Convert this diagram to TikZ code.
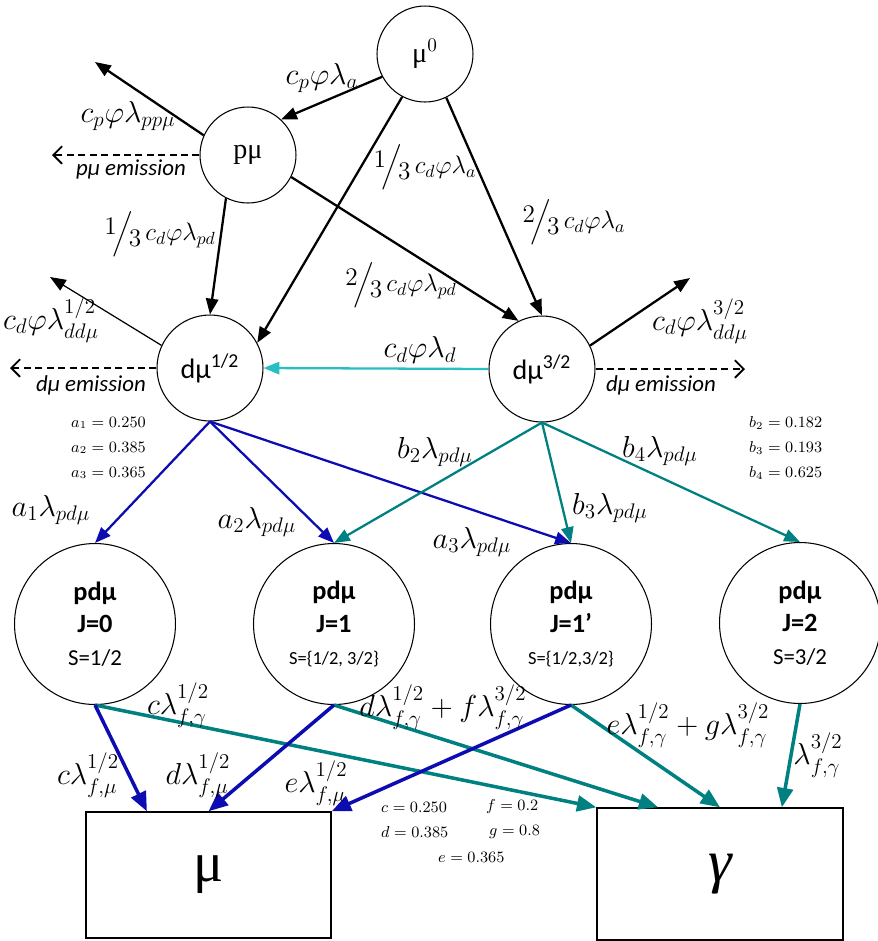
\documentclass[tikz,border=0pt]{standalone}
\usepackage{amsmath, amssymb}
\usepackage{fontspec}
\setmainfont{Liberation Serif}
\setsansfont{Carlito}
\usepackage{tikz}
\usetikzlibrary{shapes,arrows,arrows.meta,positioning,calc}

\definecolor{flowblue}{RGB}{12,12,178}
\definecolor{flowteal}{RGB}{0,128,128}
\definecolor{flowcyan}{RGB}{40,190,195}
\newcommand{\ofthree}[1]{\raisebox{0.5ex}{$#1$}\!\Big/\!\raisebox{-0.5ex}{$3$}\,}

\begin{document}
\begin{tikzpicture}[x=0.02cm, y=-0.02cm,
  state/.style={circle, draw, line width=0.6pt, minimum size=1.92cm, inner sep=0pt, font=\fontsize{16}{18}\selectfont},
  dstate/.style={state, minimum size=2.12cm, font=\sffamily\fontsize{16}{18}\selectfont},
  mol/.style={circle, draw, line width=0.6pt, minimum size=3.22cm, inner sep=0pt, align=center, font=\sffamily\fontsize{15}{18.5}\selectfont},
  sink/.style={rectangle, draw, line width=0.8pt, inner sep=0pt},
  flow/.style={line width=1.3pt, -{Triangle[length=9pt,width=7pt]}},
  emit/.style={line width=1.1pt, dash pattern=on 4pt off 2.5pt, -{Straight Barb[length=5pt,width=10pt]}},
  decay/.style={line width=2pt, -{Triangle[length=11pt,width=9pt]}},
  rate/.style={font=\LARGE},
  frate/.style={inner sep=1pt, font=\Large},
  emtext/.style={font=\sffamily\itshape\fontsize{13}{15}\selectfont},
  const/.style={font=\small, anchor=west},
]
\useasboundingbox (0,0) rectangle (878,941);

% states
\node[state] (mu0) at (425,54) {μ$^0$};
\node[state] (pmu) at (248,155) {pμ};
\node[dstate] (dmuA) at (210,368) {dμ\textsuperscript{1/2}};
\node[dstate] (dmuB) at (542,369) {dμ\textsuperscript{3/2}};
\node[mol] (pd0) at (95,624) {\bfseries pdμ\\ \bfseries J=0\\ \fontsize{13}{16}\selectfont S=1/2};
\node[mol] (pd1) at (334,624) {\bfseries pdμ\\ \bfseries J=1\\ \fontsize{10.5}{15}\selectfont S=\{1/2, 3/2\}};
\node[mol] (pd1p) at (571,624) {\bfseries pdμ\\ \bfseries J=1'\\ \fontsize{10.5}{15}\selectfont S=\{1/2,3/2\}};
\node[mol] (pd2) at (800,623) {\bfseries pdμ\\ \bfseries J=2\\ \fontsize{13}{16}\selectfont S=3/2};
\node[sink, minimum width=4.9cm, minimum height=2.52cm, font=\fontsize{32}{32}\selectfont] (muout) at (208.5,875) {μ};
\node[sink, minimum width=4.92cm, minimum height=2.64cm, font=\fontsize{34}{34}\selectfont\itshape] (gout) at (720,874) {γ};

% free ends
\coordinate (ppout) at (95,62);
\coordinate (pemit) at (52,155);
\coordinate (ddAout) at (50,277);
\coordinate (dAemit) at (10,368);
\coordinate (ddBout) at (690,278);
\coordinate (dBemit) at (745,369);

% capture and transfer
\draw[flow] (mu0.208) -- (pmu.47);
\draw[flow] (pmu.156) -- (ppout);
\draw[emit] (pmu.west) -- (pemit);
\draw[flow] (pmu.243) -- (dmuA.north);
\draw[flow] (mu0.242) -- (dmuA.28);
\draw[flow] (mu0.296) -- (dmuB.north);
\draw[flow] (pmu.333) -- (dmuB.116);
\draw[flow, line width=0.7pt] (dmuA.155) -- (ddAout);
\draw[emit] (dmuA.west) -- (dAemit);
\draw[flow, flowcyan] (dmuB.west) -- (dmuA.east);
\draw[flow] (dmuB.26) -- (ddBout);
\draw[emit] (dmuB.east) -- (dBemit);

% molecule formation
\foreach \t in {pd0,pd1,pd1p}
  \draw[flow, flowblue] (dmuA.south) -- (\t.north);
\foreach \t in {pd1,pd1p,pd2}
  \draw[flow, flowteal] (dmuB.south) -- (\t.north);

% fusion
\draw[decay, flowteal] (pd0.south) -- (gout.north west);
\draw[decay, flowteal] (pd1.south) -- ($(gout.north west)!0.25!(gout.north east)$);
\draw[decay, flowteal] (pd1p.south) -- (gout.north);
\draw[decay, flowteal] (pd2.south) -- ($(gout.north west)!0.75!(gout.north east)$);
\draw[decay, flowblue] (pd0.south) -- ($(muout.north west)!0.25!(muout.north east)$);
\draw[decay, flowblue] (pd1.south) -- (muout.north);
\draw[decay, flowblue] (pd1p.south) -- (muout.north east);

% rates
\node[rate] (rpa) at (322,78) {$c_p\varphi\lambda_a$};
\node[rate] (rppm) at (128,116) {$c_p\varphi\lambda_{pp\mu}$};
\node[emtext] (epm) at (131,169) {pμ emission};
\node[frate] (rpdA) at (160,234) {$\ofthree{1}c_d\varphi\lambda_{pd}$};
\node[frate] (raA) at (425,167) {$\ofthree{1}c_d\varphi\lambda_a$};
\node[frate] (raB) at (574,222) {$\ofthree{2}c_d\varphi\lambda_a$};
\node[frate] (rpdB) at (401,285) {$\ofthree{2}c_d\varphi\lambda_{pd}$};
\node[rate] (rddA) at (51,320) {$c_d\varphi\lambda^{1/2}_{dd\mu}$};
\node[emtext] (edA) at (91,385) {dμ emission};
\node[rate] (rd) at (420,350) {$c_d\varphi\lambda_d$};
\node[rate] (rddB) at (700,321) {$c_d\varphi\lambda^{3/2}_{dd\mu}$};
\node[emtext] (edB) at (661,385) {dμ emission};

\node[const] (ka1) at (65,423) {$a_1 = 0.250$};
\node[const] (ka2) at (65,448) {$a_2 = 0.385$};
\node[const] (ka3) at (65,473) {$a_3 = 0.365$};
\node[const] (kb2) at (743,423) {$b_2 = 0.182$};
\node[const] (kb3) at (743,448) {$b_3 = 0.193$};
\node[const] (kb4) at (743,473) {$b_4 = 0.625$};

\node[rate] (ra1) at (51,510) {$a_1\lambda_{pd\mu}$};
\node[rate] (ra2) at (257,522) {$a_2\lambda_{pd\mu}$};
\node[rate] (ra3) at (472,542) {$a_3\lambda_{pd\mu}$};
\node[rate] (rb2) at (435,452) {$b_2\lambda_{pd\mu}$};
\node[rate] (rb3) at (610,508) {$b_3\lambda_{pd\mu}$};
\node[rate] (rb4) at (660,451) {$b_4\lambda_{pd\mu}$};

\node[rate] (rcg) at (178,705) {$c\lambda^{1/2}_{f,\gamma}$};
\node[rate] (rcm) at (88,775) {$c\lambda^{1/2}_{f,\mu}$};
\node[rate] (rdm) at (198,775) {$d\lambda^{1/2}_{f,\mu}$};
\node[rate] (rem) at (316,783) {$e\lambda^{1/2}_{f,\mu}$};
\node[rate] (rdg) at (443,707) {$d\lambda^{1/2}_{f,\gamma} + f\lambda^{3/2}_{f,\gamma}$};
\node[rate] (reg) at (688,725) {$e\lambda^{1/2}_{f,\gamma} + g\lambda^{3/2}_{f,\gamma}$};
\node[rate] (rg) at (818,755) {$\lambda^{3/2}_{f,\gamma}$};

\node[const] (kc) at (375,807) {$c = 0.250$};
\node[const] (kd) at (375,832) {$d = 0.385$};
\node[const] (ke) at (432,857) {$e = 0.365$};
\node[const] (kf) at (480,807) {$f = 0.2$};
\node[const] (kg) at (483,832) {$g = 0.8$};
\end{tikzpicture}
\end{document}
